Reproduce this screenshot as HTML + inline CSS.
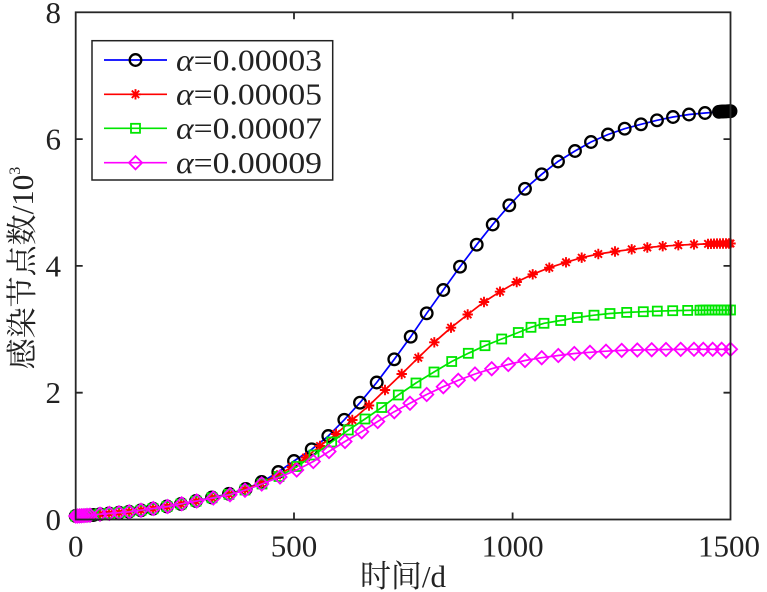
<!DOCTYPE html>
<html><head><meta charset="utf-8"><style>
html,body{margin:0;padding:0;background:#fff;}
svg{display:block;}
svg text{font-family:"Liberation Serif","Noto Serif CJK SC",serif;}
</style></head><body>
<svg width="767" height="592" viewBox="0 0 767 592" xmlns="http://www.w3.org/2000/svg">
<defs>
<path id="st" d="M-5.2,0H5.2M0,-5.2V5.2M-3.7,-3.7L3.7,3.7M-3.7,3.7L3.7,-3.7" fill="none" stroke="#ff0000" stroke-width="1.9"/>
<rect id="sq" x="-4.5" y="-4.5" width="9" height="9" fill="none" stroke="#00e600" stroke-width="1.8"/>
<path id="dm" d="M0,-6.6L6.6,0L0,6.6L-6.6,0Z" fill="none" stroke="#ff00ff" stroke-width="1.8"/>
</defs>
<rect width="767" height="592" fill="#fff"/>

<!-- Series 1 -->
<polyline fill="none" stroke="#0000ff" stroke-width="1.7" points="75.7,516 77.5,516 79.5,515.9 81.5,515.8 84,515.6 87,515.4 90,515.2 93.5,515 100,514.2 109,513.5 119,512.7 129,511.7 141,510.3 153,508.7 167,506.5 181,504 196,501 212,497.5 229,493.8 245.7,489 261.7,482 278.3,472 294,461 311.7,449.3 328.3,436 344.3,419.8 360,402.7 376.7,382.5 394.3,359.3 410.7,336.7 426.7,313.3 443.3,290 460,266.7 476.7,244.7 492.7,224.5 509.3,205.3 525,188.8 541.7,174.3 558,161.5 575,151 591,142 608,134.5 624.7,128.7 641,124.3 657,120.3 673,117 689,114.5 705,113 719,111.8 721,111.6 723,111.5 725,111.4 727,111.3 729,111.2 730.5,111.2"/>
<g fill="none" stroke="#000" stroke-width="2.3">
<circle cx="75.7" cy="516" r="5.8"/><circle cx="77.5" cy="516" r="5.8"/><circle cx="79.5" cy="515.9" r="5.8"/><circle cx="81.5" cy="515.8" r="5.8"/><circle cx="84" cy="515.6" r="5.8"/><circle cx="87" cy="515.4" r="5.8"/><circle cx="90" cy="515.2" r="5.8"/><circle cx="93.5" cy="515" r="5.8"/><circle cx="100" cy="514.2" r="5.8"/><circle cx="109" cy="513.5" r="5.8"/><circle cx="119" cy="512.7" r="5.8"/><circle cx="129" cy="511.7" r="5.8"/><circle cx="141" cy="510.3" r="5.8"/><circle cx="153" cy="508.7" r="5.8"/><circle cx="167" cy="506.5" r="5.8"/><circle cx="181" cy="504" r="5.8"/><circle cx="196" cy="501" r="5.8"/><circle cx="212" cy="497.5" r="5.8"/><circle cx="229" cy="493.8" r="5.8"/><circle cx="245.7" cy="489" r="5.8"/><circle cx="261.7" cy="482" r="5.8"/><circle cx="278.3" cy="472" r="5.8"/><circle cx="294" cy="461" r="5.8"/><circle cx="311.7" cy="449.3" r="5.8"/><circle cx="328.3" cy="436" r="5.8"/><circle cx="344.3" cy="419.8" r="5.8"/><circle cx="360" cy="402.7" r="5.8"/><circle cx="376.7" cy="382.5" r="5.8"/><circle cx="394.3" cy="359.3" r="5.8"/><circle cx="410.7" cy="336.7" r="5.8"/><circle cx="426.7" cy="313.3" r="5.8"/><circle cx="443.3" cy="290" r="5.8"/><circle cx="460" cy="266.7" r="5.8"/><circle cx="476.7" cy="244.7" r="5.8"/><circle cx="492.7" cy="224.5" r="5.8"/><circle cx="509.3" cy="205.3" r="5.8"/><circle cx="525" cy="188.8" r="5.8"/><circle cx="541.7" cy="174.3" r="5.8"/><circle cx="558" cy="161.5" r="5.8"/><circle cx="575" cy="151" r="5.8"/><circle cx="591" cy="142" r="5.8"/><circle cx="608" cy="134.5" r="5.8"/><circle cx="624.7" cy="128.7" r="5.8"/><circle cx="641" cy="124.3" r="5.8"/><circle cx="657" cy="120.3" r="5.8"/><circle cx="673" cy="117" r="5.8"/><circle cx="689" cy="114.5" r="5.8"/><circle cx="705" cy="113" r="5.8"/><circle cx="719" cy="111.8" r="5.8"/><circle cx="721" cy="111.6" r="5.8"/><circle cx="723" cy="111.5" r="5.8"/><circle cx="725" cy="111.4" r="5.8"/><circle cx="727" cy="111.3" r="5.8"/><circle cx="729" cy="111.2" r="5.8"/><circle cx="730.5" cy="111.2" r="5.8"/>
</g>

<!-- Series 2 -->
<polyline fill="none" stroke="#ff0000" stroke-width="1.7" points="75.7,516 77.5,516 79.5,515.9 81.5,515.8 84,515.6 87,515.4 90,515.2 93.5,515 100,514.2 109,513.5 119,512.7 129,511.7 141,510.3 153,508.7 167,506.6 181,504.1 196,501.2 212,497.8 229,494.2 245,489.5 261,483 277,475.5 292,467 306,457.5 320,446 336,434 352.3,420 369,405.5 385,390 401.7,374 418.3,357.7 434.3,342.3 451,327.7 467.7,314.5 484,302 500,291.7 516.7,282 532.7,274.3 549.3,267.7 566,262.3 581.7,257.7 598.3,254 615,251.5 631.7,249.3 647.3,247.5 662.7,246.2 678.3,245.2 694,244.4 708,243.9 711,243.8 714,243.7 717,243.6 720,243.6 723,243.5 726,243.5 729,243.5 730.5,243.5"/>
<g>
<use href="#st" x="75.7" y="516"/><use href="#st" x="77.5" y="516"/><use href="#st" x="79.5" y="515.9"/><use href="#st" x="81.5" y="515.8"/><use href="#st" x="84" y="515.6"/><use href="#st" x="87" y="515.4"/><use href="#st" x="90" y="515.2"/><use href="#st" x="93.5" y="515"/><use href="#st" x="100" y="514.2"/><use href="#st" x="109" y="513.5"/><use href="#st" x="119" y="512.7"/><use href="#st" x="129" y="511.7"/><use href="#st" x="141" y="510.3"/><use href="#st" x="153" y="508.7"/><use href="#st" x="167" y="506.6"/><use href="#st" x="181" y="504.1"/><use href="#st" x="196" y="501.2"/><use href="#st" x="212" y="497.8"/><use href="#st" x="229" y="494.2"/><use href="#st" x="245" y="489.5"/><use href="#st" x="261" y="483"/><use href="#st" x="277" y="475.5"/><use href="#st" x="292" y="467"/><use href="#st" x="306" y="457.5"/><use href="#st" x="320" y="446"/><use href="#st" x="336" y="434"/><use href="#st" x="352.3" y="420"/><use href="#st" x="369" y="405.5"/><use href="#st" x="385" y="390"/><use href="#st" x="401.7" y="374"/><use href="#st" x="418.3" y="357.7"/><use href="#st" x="434.3" y="342.3"/><use href="#st" x="451" y="327.7"/><use href="#st" x="467.7" y="314.5"/><use href="#st" x="484" y="302"/><use href="#st" x="500" y="291.7"/><use href="#st" x="516.7" y="282"/><use href="#st" x="532.7" y="274.3"/><use href="#st" x="549.3" y="267.7"/><use href="#st" x="566" y="262.3"/><use href="#st" x="581.7" y="257.7"/><use href="#st" x="598.3" y="254"/><use href="#st" x="615" y="251.5"/><use href="#st" x="631.7" y="249.3"/><use href="#st" x="647.3" y="247.5"/><use href="#st" x="662.7" y="246.2"/><use href="#st" x="678.3" y="245.2"/><use href="#st" x="694" y="244.4"/><use href="#st" x="708" y="243.9"/><use href="#st" x="711" y="243.8"/><use href="#st" x="714" y="243.7"/><use href="#st" x="717" y="243.6"/><use href="#st" x="720" y="243.6"/><use href="#st" x="723" y="243.5"/><use href="#st" x="726" y="243.5"/><use href="#st" x="729" y="243.5"/><use href="#st" x="730.5" y="243.5"/>
</g>

<!-- Series 3 -->
<polyline fill="none" stroke="#00e600" stroke-width="1.7" points="75.7,516 77.5,516 79.5,515.9 81.5,515.8 84,515.6 87,515.4 90,515.2 93.5,515 100,514.2 109,513.5 119,512.7 129,511.7 141,510.3 153,508.7 167,506.6 181,504.1 196,501.2 212,497.8 229,494.4 245,490 262,484 279,476.5 297,466.5 314,455 331.7,442 348.3,430 365,419 381.7,407.5 398.3,395 416,383 434,372 451.7,361.5 468.3,353.3 485,345.7 501.7,339 518.3,332.5 531,327.3 544,323.3 560.7,320.5 577.3,317.5 594,315.2 610,313.5 626.7,312.4 643.3,311.7 657.3,311.1 672.7,310.7 687.7,310.4 700,310.2 703,310.1 706,310.1 709,310 712,310 715,310 718,310 721,310 724,310 727,310 730.5,310"/>
<g>
<use href="#sq" x="75.7" y="516"/><use href="#sq" x="77.5" y="516"/><use href="#sq" x="79.5" y="515.9"/><use href="#sq" x="81.5" y="515.8"/><use href="#sq" x="84" y="515.6"/><use href="#sq" x="87" y="515.4"/><use href="#sq" x="90" y="515.2"/><use href="#sq" x="93.5" y="515"/><use href="#sq" x="100" y="514.2"/><use href="#sq" x="109" y="513.5"/><use href="#sq" x="119" y="512.7"/><use href="#sq" x="129" y="511.7"/><use href="#sq" x="141" y="510.3"/><use href="#sq" x="153" y="508.7"/><use href="#sq" x="167" y="506.6"/><use href="#sq" x="181" y="504.1"/><use href="#sq" x="196" y="501.2"/><use href="#sq" x="212" y="497.8"/><use href="#sq" x="229" y="494.4"/><use href="#sq" x="245" y="490"/><use href="#sq" x="262" y="484"/><use href="#sq" x="279" y="476.5"/><use href="#sq" x="297" y="466.5"/><use href="#sq" x="314" y="455"/><use href="#sq" x="331.7" y="442"/><use href="#sq" x="348.3" y="430"/><use href="#sq" x="365" y="419"/><use href="#sq" x="381.7" y="407.5"/><use href="#sq" x="398.3" y="395"/><use href="#sq" x="416" y="383"/><use href="#sq" x="434" y="372"/><use href="#sq" x="451.7" y="361.5"/><use href="#sq" x="468.3" y="353.3"/><use href="#sq" x="485" y="345.7"/><use href="#sq" x="501.7" y="339"/><use href="#sq" x="518.3" y="332.5"/><use href="#sq" x="531" y="327.3"/><use href="#sq" x="544" y="323.3"/><use href="#sq" x="560.7" y="320.5"/><use href="#sq" x="577.3" y="317.5"/><use href="#sq" x="594" y="315.2"/><use href="#sq" x="610" y="313.5"/><use href="#sq" x="626.7" y="312.4"/><use href="#sq" x="643.3" y="311.7"/><use href="#sq" x="657.3" y="311.1"/><use href="#sq" x="672.7" y="310.7"/><use href="#sq" x="687.7" y="310.4"/><use href="#sq" x="700" y="310.2"/><use href="#sq" x="703" y="310.1"/><use href="#sq" x="706" y="310.1"/><use href="#sq" x="709" y="310"/><use href="#sq" x="712" y="310"/><use href="#sq" x="715" y="310"/><use href="#sq" x="718" y="310"/><use href="#sq" x="721" y="310"/><use href="#sq" x="724" y="310"/><use href="#sq" x="727" y="310"/><use href="#sq" x="730.5" y="310"/>
</g>

<!-- Series 4 -->
<polyline fill="none" stroke="#ff00ff" stroke-width="1.7" points="75.7,516 77.5,516 79.5,515.9 81.5,515.8 84,515.6 87,515.4 90,515.2 100,514.2 109.3,513.4 119,512.7 129.3,511.8 141,510.2 153.3,508.5 167.7,506.5 181.7,503.8 196.7,501 213.3,498 230,494.7 245,490.2 261.7,484 280,477 296.7,470 313.3,461.5 329,451.5 345,441.5 361.7,431.7 377.7,421.5 394.3,411.7 410,403.3 426.7,394.5 443.3,386.7 458.3,380.3 475,374 491.7,368.7 508.3,364.5 525,360.5 541.7,357.7 558.3,355.5 574.3,353.5 590,352.3 606,351.2 621.7,350.4 637.3,350 651.7,349.7 666,349.5 680.7,349.4 694,349.3 703.3,349.3 712.7,349.3 721.7,349.3 730.5,349.3"/>
<g>
<use href="#dm" x="75.7" y="516"/><use href="#dm" x="77.5" y="516"/><use href="#dm" x="79.5" y="515.9"/><use href="#dm" x="81.5" y="515.8"/><use href="#dm" x="84" y="515.6"/><use href="#dm" x="87" y="515.4"/><use href="#dm" x="90" y="515.2"/><use href="#dm" x="100" y="514.2"/><use href="#dm" x="109.3" y="513.4"/><use href="#dm" x="119" y="512.7"/><use href="#dm" x="129.3" y="511.8"/><use href="#dm" x="141" y="510.2"/><use href="#dm" x="153.3" y="508.5"/><use href="#dm" x="167.7" y="506.5"/><use href="#dm" x="181.7" y="503.8"/><use href="#dm" x="196.7" y="501"/><use href="#dm" x="213.3" y="498"/><use href="#dm" x="230" y="494.7"/><use href="#dm" x="245" y="490.2"/><use href="#dm" x="261.7" y="484"/><use href="#dm" x="280" y="477"/><use href="#dm" x="296.7" y="470"/><use href="#dm" x="313.3" y="461.5"/><use href="#dm" x="329" y="451.5"/><use href="#dm" x="345" y="441.5"/><use href="#dm" x="361.7" y="431.7"/><use href="#dm" x="377.7" y="421.5"/><use href="#dm" x="394.3" y="411.7"/><use href="#dm" x="410" y="403.3"/><use href="#dm" x="426.7" y="394.5"/><use href="#dm" x="443.3" y="386.7"/><use href="#dm" x="458.3" y="380.3"/><use href="#dm" x="475" y="374"/><use href="#dm" x="491.7" y="368.7"/><use href="#dm" x="508.3" y="364.5"/><use href="#dm" x="525" y="360.5"/><use href="#dm" x="541.7" y="357.7"/><use href="#dm" x="558.3" y="355.5"/><use href="#dm" x="574.3" y="353.5"/><use href="#dm" x="590" y="352.3"/><use href="#dm" x="606" y="351.2"/><use href="#dm" x="621.7" y="350.4"/><use href="#dm" x="637.3" y="350"/><use href="#dm" x="651.7" y="349.7"/><use href="#dm" x="666" y="349.5"/><use href="#dm" x="680.7" y="349.4"/><use href="#dm" x="694" y="349.3"/><use href="#dm" x="703.3" y="349.3"/><use href="#dm" x="712.7" y="349.3"/><use href="#dm" x="721.7" y="349.3"/><use href="#dm" x="730.5" y="349.3"/>
</g>

<!-- Axes box and ticks -->
<g stroke="#262626" stroke-width="1.8" fill="none">
<rect x="75.7" y="12.3" width="654.8" height="507.2"/>
<path d="M294,519.5V512.5M512.6,519.5V512.5M294,12.3V19.3M512.6,12.3V19.3M75.7,392.7H82.7M75.7,265.9H82.7M75.7,139.1H82.7M730.5,392.7H723.5M730.5,265.9H723.5M730.5,139.1H723.5"/>
</g>

<!-- Tick labels -->
<g font-size="31" fill="#222">
<text x="61" y="530" text-anchor="end">0</text>
<text x="61" y="403.2" text-anchor="end">2</text>
<text x="61" y="276.4" text-anchor="end">4</text>
<text x="61" y="149.6" text-anchor="end">6</text>
<text x="61" y="22.8" text-anchor="end">8</text>
<text x="75.8" y="556.5" text-anchor="middle">0</text>
<text x="294" y="556.5" text-anchor="middle">500</text>
<text x="512.6" y="556.5" text-anchor="middle">1000</text>
<text x="729" y="556.5" text-anchor="middle">1500</text>
</g>

<!-- Axis labels -->
<text x="403" y="587" text-anchor="middle" font-size="31" fill="#222">时间/d</text>
<text transform="translate(33,268) rotate(-90)" text-anchor="middle" font-size="31" fill="#222">感染节点数/10<tspan dy="-13" font-size="16">3</tspan></text>

<!-- Legend -->
<rect x="92" y="40.7" width="240.7" height="139.3" fill="#fff" stroke="#222" stroke-width="1.5"/>
<line x1="104" y1="60" x2="167" y2="60" stroke="#0000ff" stroke-width="1.7"/>
<circle cx="135.5" cy="60" r="5.8" fill="none" stroke="#000" stroke-width="2.3"/>
<line x1="104" y1="94.3" x2="167" y2="94.3" stroke="#ff0000" stroke-width="1.7"/>
<use href="#st" x="135.5" y="94.3"/>
<line x1="104" y1="128.3" x2="167" y2="128.3" stroke="#00e600" stroke-width="1.7"/>
<use href="#sq" x="135.5" y="128.3"/>
<line x1="104" y1="162.7" x2="167" y2="162.7" stroke="#ff00ff" stroke-width="1.7"/>
<use href="#dm" x="135.5" y="162.7"/>
<g font-size="31" fill="#222">
<text x="176" y="70.3" textLength="146" lengthAdjust="spacingAndGlyphs"><tspan font-style="italic">α</tspan>=0.00003</text>
<text x="176" y="104.6" textLength="146" lengthAdjust="spacingAndGlyphs"><tspan font-style="italic">α</tspan>=0.00005</text>
<text x="176" y="138.6" textLength="146" lengthAdjust="spacingAndGlyphs"><tspan font-style="italic">α</tspan>=0.00007</text>
<text x="176" y="173" textLength="146" lengthAdjust="spacingAndGlyphs"><tspan font-style="italic">α</tspan>=0.00009</text>
</g>
</svg>
</body></html>
